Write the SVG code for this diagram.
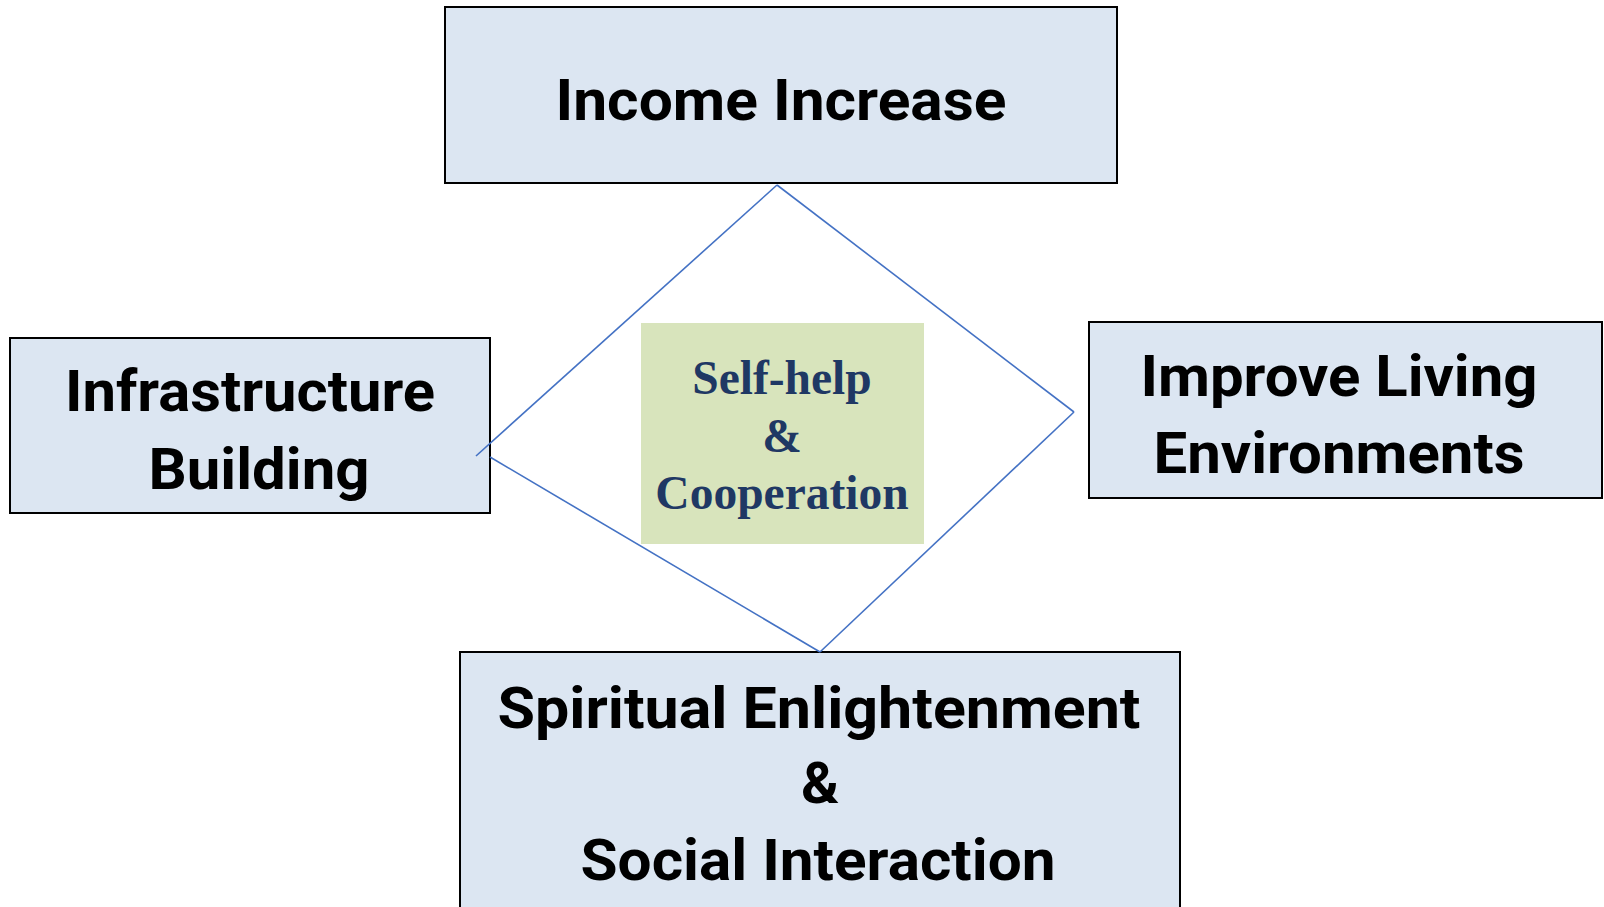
<svg xmlns="http://www.w3.org/2000/svg" width="1604" height="907" viewBox="0 0 1604 907">
  <style>
    .box { fill: #DCE6F2; stroke: #000; stroke-width: 2; }
    .lbl { font-family: Roboto, "Liberation Sans", sans-serif; font-weight: 700; font-size: 58px; fill: #000; text-anchor: middle; }
    .core { fill: #D8E4BC; }
    .corelbl { font-family: "Liberation Serif", serif; font-weight: 700; font-size: 47.5px; fill: #1F3864; text-anchor: middle; }
    .edge { fill: none; stroke: #4472C4; stroke-width: 1.6; }
  </style>
  <rect width="1604" height="907" fill="#FFFFFF"/>

  <g id="income">
    <rect class="box" x="445" y="7" width="672" height="176"/>
    <text class="lbl" x="781" y="120" textLength="451" lengthAdjust="spacingAndGlyphs">Income Increase</text>
  </g>

  <g id="infrastructure">
    <rect class="box" x="10" y="338" width="480" height="175"/>
    <text class="lbl" x="250" y="411" textLength="370" lengthAdjust="spacingAndGlyphs">Infrastructure</text>
    <text class="lbl" x="259" y="489" textLength="221" lengthAdjust="spacingAndGlyphs">Building</text>
  </g>

  <g id="living">
    <rect class="box" x="1089" y="322" width="513" height="176"/>
    <text class="lbl" x="1339" y="396" textLength="397" lengthAdjust="spacingAndGlyphs">Improve Living</text>
    <text class="lbl" x="1339" y="473" textLength="371" lengthAdjust="spacingAndGlyphs">Environments</text>
  </g>

  <g id="spiritual">
    <rect class="box" x="460" y="652" width="720" height="270"/>
    <text class="lbl" x="819" y="728" textLength="643" lengthAdjust="spacingAndGlyphs">Spiritual Enlightenment</text>
    <text class="lbl" x="820" y="803">&amp;</text>
    <text class="lbl" x="818" y="880" textLength="475" lengthAdjust="spacingAndGlyphs">Social Interaction</text>
  </g>

  <g id="selfhelp">
    <rect class="core" x="641" y="323" width="283" height="221"/>
    <text class="corelbl" x="782" y="394">Self-help</text>
    <text class="corelbl" x="782" y="452">&amp;</text>
    <text class="corelbl" x="782" y="509">Cooperation</text>
  </g>

  <!-- diamond linking the four goals, drawn over the boxes -->
  <g id="connectors">
    <line class="edge" x1="777" y1="185" x2="476" y2="456"/>
    <line class="edge" x1="777" y1="185" x2="1074" y2="412"/>
    <line class="edge" x1="1074" y1="412" x2="820" y2="652"/>
    <line class="edge" x1="490" y1="457" x2="820" y2="652"/>
  </g>
</svg>
